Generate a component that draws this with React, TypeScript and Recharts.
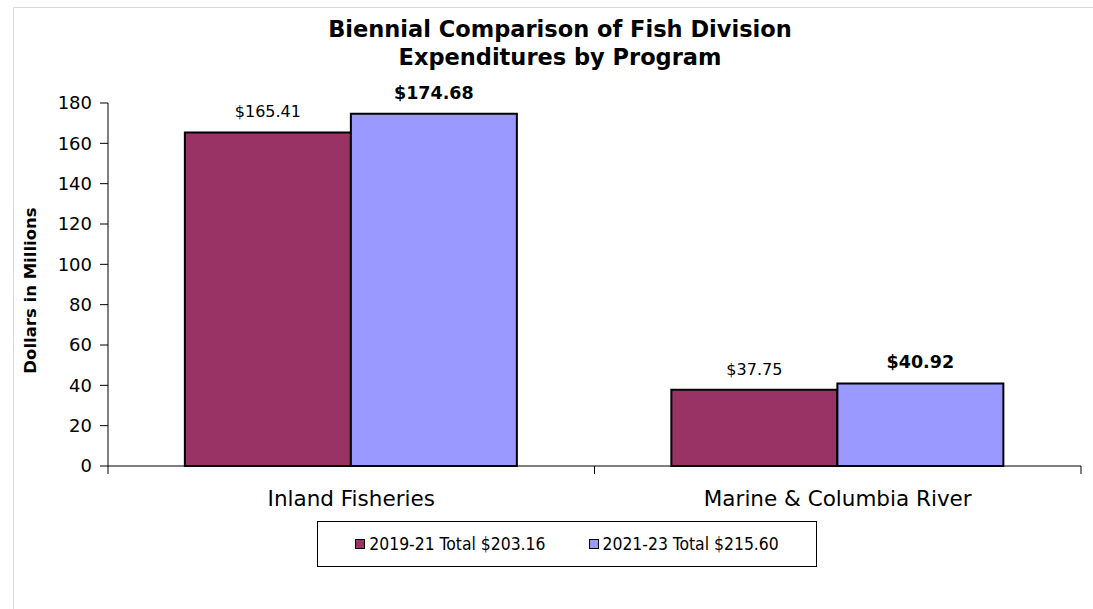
import React from 'react';
import { BarChart, Bar, XAxis, YAxis, Legend, LabelList } from 'recharts';

const categories = ['Inland Fisheries', 'Marine & Columbia River'];
const values2019 = [165.41, 37.75];
const values2021 = [174.68, 40.92];
const yTicks = [0, 20, 40, 60, 80, 100, 120, 140, 160, 180];
const seriesNames = ['2019-21 Total $203.16', '2021-23 Total $215.60'];
const seriesColors = ['#993366', '#9999FF'];
const titleLines = ['Biennial Comparison of Fish Division', 'Expenditures by Program'];
const yLabel = 'Dollars in Millions';

const data = categories.map((c, i) => ({ category: c, a: values2019[i], b: values2021[i] }));

const FONT = "'DejaVu Sans', sans-serif";
const FONT_COND = "'DejaVu Sans Condensed', 'DejaVu Sans', sans-serif";
const fmt = (v: any) => `$${Number(v).toFixed(2)}`;

const CategoryTick = (props: any) => {
  const { x, y, payload, width, visibleTicksCount } = props;
  const half = width / (visibleTicksCount || 1) / 2;
  return (
    <g>
      <line x1={x - half} y1={y} x2={x - half} y2={y + 8} stroke="#000" />
      <line x1={x + half} y1={y} x2={x + half} y2={y + 8} stroke="#000" />
      <text x={x} y={y + 40} textAnchor="middle" fontSize={21.5} fill="#000" fontFamily={FONT}>
        {payload.value}
      </text>
    </g>
  );
};

const renderLegend = (props: any) => {
  const payload = props.payload || [];
  return (
    <div
      style={{
        boxSizing: 'border-box',
        width: 500,
        height: 46,
        border: '1px solid #000',
        display: 'flex',
        alignItems: 'center',
        justifyContent: 'center',
        gap: 43,
        fontFamily: FONT_COND,
        fontSize: 17.4,
        color: '#000',
        background: '#fff',
      }}
    >
      {payload.map((p: any, i: number) => (
        <div key={i} style={{ display: 'flex', alignItems: 'center' }}>
          <span
            style={{
              display: 'inline-block',
              boxSizing: 'border-box',
              width: 10,
              height: 10,
              background: p.color,
              border: '1.5px solid #000',
              marginRight: 4,
            }}
          />
          <span>{p.value}</span>
        </div>
      ))}
    </div>
  );
};

export default function App() {
  return (
    <div style={{ position: 'absolute', left: 0, top: 0, width: 1093, height: 609, overflow: 'hidden', background: '#fff' }}>
      <div
        style={{
          position: 'absolute',
          left: 13,
          top: 7,
          width: 1200,
          height: 700,
          border: '1px solid #d9d9d9',
        }}
      />
      <div
        style={{
          position: 'absolute',
          left: 0,
          top: 15,
          width: 1120,
          textAlign: 'center',
          fontFamily: FONT,
          fontWeight: 'bold',
          fontSize: 22.5,
          lineHeight: '28px',
          color: '#000',
        }}
      >
        {titleLines.map((t, i) => (
          <div key={i}>{t}</div>
        ))}
      </div>
      <div style={{ position: 'absolute', left: 0, top: 0 }}>
        <BarChart
          width={1093}
          height={609}
          data={data}
          margin={{ top: 103, right: 12, bottom: 113, left: 48 }}
          barCategoryGap="15.8%"
          barGap={0}
          style={{ fontFamily: FONT }}
        >
          <XAxis
            dataKey="category"
            height={30}
            tickLine={false}
            tickSize={0}
            tickMargin={0}
            axisLine={{ stroke: '#000', strokeWidth: 1 }}
            tick={<CategoryTick />}
            interval={0}
          />
          <YAxis
            width={60}
            domain={[0, 180]}
            ticks={yTicks}
            interval={0}
            tickSize={8}
            tickMargin={8}
            axisLine={{ stroke: '#000' }}
            tickLine={{ stroke: '#000' }}
            tick={{ fontSize: 18, fill: '#000' }}
            label={{
              value: yLabel,
              angle: -90,
              position: 'left',
              offset: 18,
              textAnchor: 'middle',
              dy: 6,
              fontSize: 16.5,
              fontWeight: 'bold',
              fill: '#000',
            }}
          />
          <Legend
            layout="horizontal"
            verticalAlign="middle"
            align="center"
            wrapperStyle={{ position: 'absolute', left: 317, top: 521, width: 500, height: 46 }}
            content={renderLegend}
          />
          <Bar dataKey="a" name={seriesNames[0]} fill={seriesColors[0]} stroke="#000" strokeWidth={2} isAnimationActive={false}>
            <LabelList dataKey="a" position="top" offset={15} formatter={fmt} fontSize={16} fill="#000" />
          </Bar>
          <Bar dataKey="b" name={seriesNames[1]} fill={seriesColors[1]} stroke="#000" strokeWidth={2} isAnimationActive={false}>
            <LabelList dataKey="b" position="top" offset={15} formatter={fmt} fontSize={17.5} fontWeight="bold" fill="#000" />
          </Bar>
        </BarChart>
      </div>
    </div>
  );
}
